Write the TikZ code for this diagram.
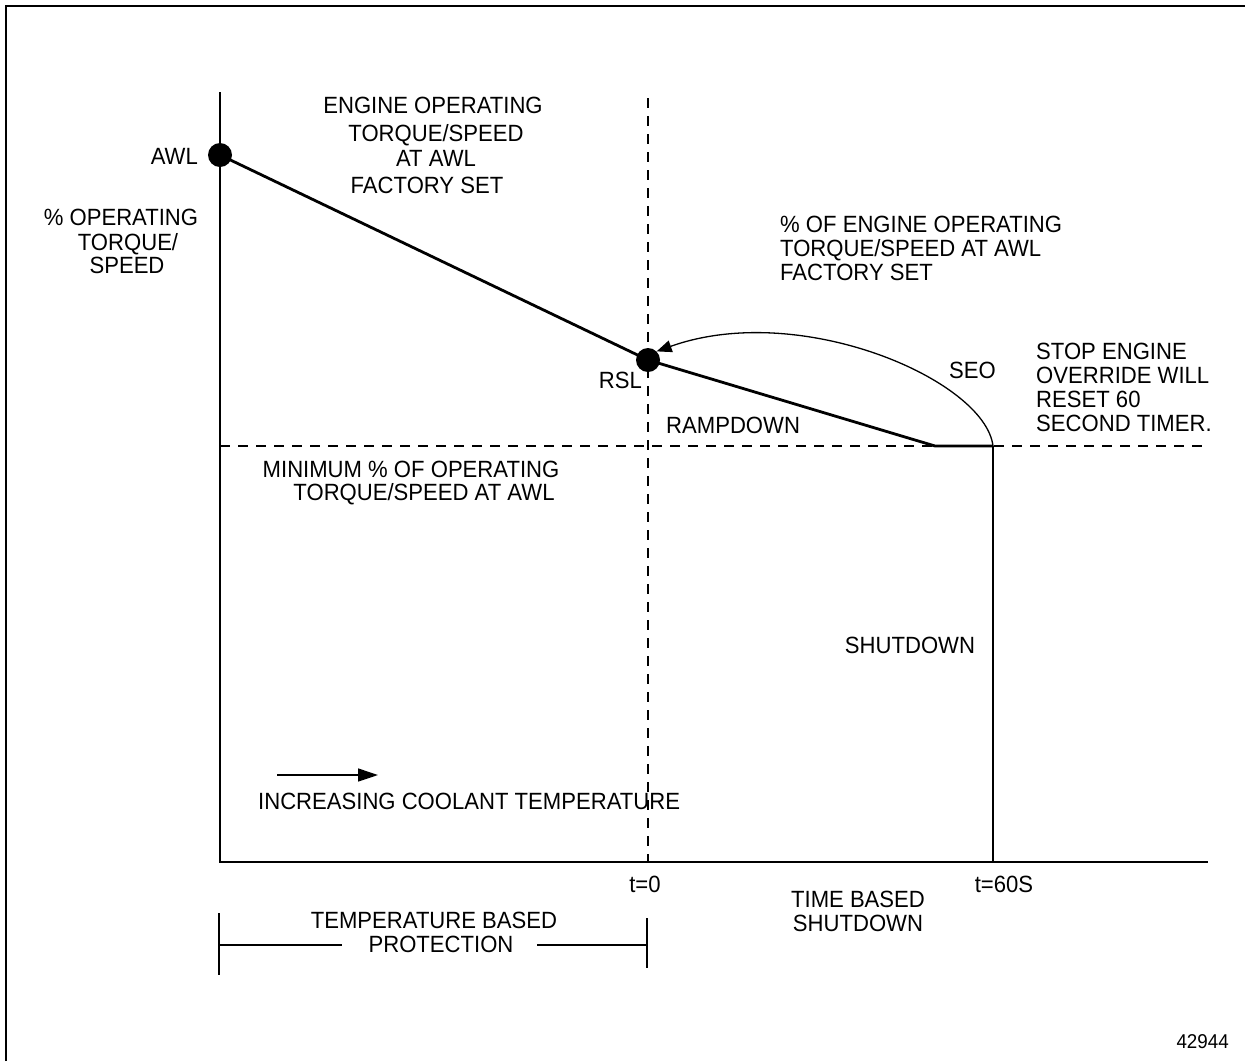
\documentclass[tikz,border=0pt]{standalone}
\usepackage{fontspec}
\setmainfont{Liberation Sans}[FakeStretch=0.94]
\usetikzlibrary{arrows.meta}
\tikzset{
  x=1pt, y=-1pt,
  lbl/.style={font=\fontsize{23.5}{26}\selectfont, inner sep=0pt},
  dot/.style={circle, fill=black, inner sep=0pt, minimum size=24pt},
  axisline/.style={line width=2.5pt},
  curveline/.style={line width=2.8pt},
  dashline/.style={line width=2.2pt, dash pattern=on 10pt off 8pt},
  thinline/.style={line width=1.1pt},
  borderline/.style={line width=2.8pt}
}
\begin{document}
\begin{tikzpicture}
\useasboundingbox (0,0) rectangle (1245,1061);
% border
\coordinate (bl) at (6,1061);
\coordinate (tl) at (6,6);
\coordinate (tr) at (1245,6);
\draw[borderline] (bl) -- (tl) -- (tr);

% axes
\coordinate (ytop) at (220,92);
\coordinate (origin) at (220,862);
\coordinate (xend) at (1208,862);
\draw[axisline] (ytop) -- (origin) -- (xend);

% dashed guides
\coordinate (vtop) at (648,98);
\coordinate (vbot) at (648,862);
\draw[dashline] (vtop) -- (vbot);
\coordinate (hleft) at (220,446);
\coordinate (hright) at (1208,446);
\draw[dashline] (hleft) -- (hright);

% dots
\node[dot] (awl) at (220,155) {};
\node[dot] (rsl) at (648,360) {};
\coordinate (rampend) at (935,446);
\coordinate (t60top) at (993,446);
\coordinate (t60bot) at (993,862);
\draw[curveline] (awl.center) -- (rsl.center) -- (rampend) -- (t60top);
\draw[axisline] (t60top) -- (t60bot);

% SEO arrow
\draw[line width=1.3pt, -{Triangle[length=15pt,width=12pt]}] (t60top) .. controls (985,380) and (800,300) .. (rsl.north east);

% coolant arrow
\coordinate (ca1) at (277,775);
\coordinate (ca2) at (378,775);
\draw[line width=1.4pt, -{Triangle[length=20pt,width=13pt]}] (ca1) -- (ca2);

% bracket
\coordinate (bk1t) at (219,913);
\coordinate (bk1b) at (219,975);
\coordinate (bk2t) at (647,918);
\coordinate (bk2b) at (647,968);
\coordinate (bkl) at (219,945);
\coordinate (bkl2) at (342,945);
\coordinate (bkr1) at (537,945);
\coordinate (bkr) at (647,945);
\draw[thinline] (bk1t) -- (bk1b);
\draw[thinline] (bk2t) -- (bk2b);
\draw[thinline] (bkl) -- (bkl2);
\draw[thinline] (bkr1) -- (bkr);

% labels
\node[lbl, anchor=base] (e1) at (433,113) {ENGINE OPERATING};
\node[lbl, anchor=base] (e2) at (436,141) {TORQUE/SPEED};
\node[lbl, anchor=base] (e3) at (436,166) {AT AWL};
\node[lbl, anchor=base] (e4) at (427,193) {FACTORY SET};

\node[lbl, anchor=base east] (awltxt) at (198,164) {AWL};

\node[lbl, anchor=base] (p1) at (121,225) {\% OPERATING};
\node[lbl, anchor=base] (p2) at (128,250) {TORQUE/};
\node[lbl, anchor=base] (p3) at (127,273) {SPEED};

\node[lbl, anchor=base west] (o1) at (780,232) {\% OF ENGINE OPERATING};
\node[lbl, anchor=base west] (o2) at (780,256) {TORQUE/SPEED AT AWL};
\node[lbl, anchor=base west] (o3) at (780,280) {FACTORY SET};

\node[lbl, anchor=base east] (rsltxt) at (642,388) {RSL};
\node[lbl, anchor=base west] (ramp) at (666,433) {RAMPDOWN};
\node[lbl, anchor=base west] (seo) at (949,378) {SEO};

\node[lbl, anchor=base west] (s1) at (1036,359) {STOP ENGINE};
\node[lbl, anchor=base west] (s2) at (1036,383) {OVERRIDE WILL};
\node[lbl, anchor=base west] (s3) at (1036,407) {RESET 60};
\node[lbl, anchor=base west] (s4) at (1036,431) {SECOND TIMER.};

\node[lbl, anchor=base] (m1) at (411,477) {MINIMUM \% OF OPERATING};
\node[lbl, anchor=base] (m2) at (424,500) {TORQUE/SPEED AT AWL};

\node[lbl, anchor=base] (shut) at (910,653) {SHUTDOWN};

\node[lbl, anchor=base west] (inc) at (258,809) {INCREASING COOLANT TEMPERATURE};

\node[lbl, anchor=base] (t0) at (645,892) {t=0};
\node[lbl, anchor=base] (t60) at (1004,892) {t=60S};

\node[lbl, anchor=base] (tb1) at (858,907) {TIME BASED};
\node[lbl, anchor=base] (tb2) at (858,931) {SHUTDOWN};

\node[lbl, anchor=base] (tp1) at (434,928) {TEMPERATURE BASED};
\node[lbl, anchor=base] (tp2) at (441,952) {PROTECTION};

\node[lbl, anchor=base east, font=\fontsize{20}{22}\selectfont] (fig) at (1229,1048) {42944};
\end{tikzpicture}
\end{document}
